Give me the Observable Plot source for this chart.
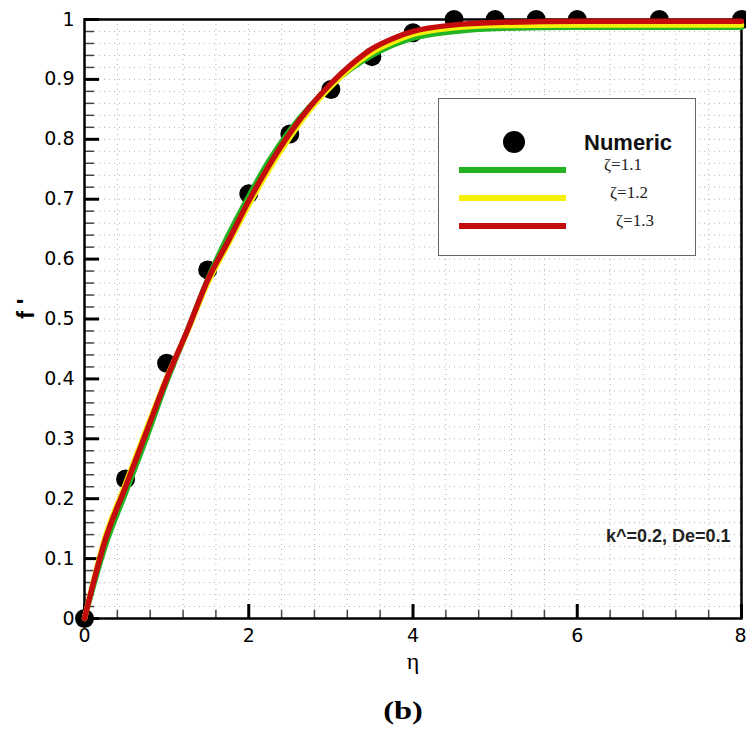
<!DOCTYPE html>
<html>
<head>
<meta charset="utf-8">
<script src="https://cdn.jsdelivr.net/npm/d3@7"></script>
<script src="https://cdn.jsdelivr.net/npm/@observablehq/plot@0.6"></script>
<style>
  body { margin: 0; background: #fff; }
  #wrap { position: relative; width: 746px; height: 737px; background: #fff; overflow: hidden; }
  #caption { position: absolute; left: 403px; top: 696px; transform: translateX(-50%) scaleX(1.25);
             font-family: "Liberation Serif", serif; font-weight: bold; font-size: 26px; color: #000; }
</style>
</head>
<body>
<div id="wrap"></div>
<script>
// ---- data ----
const etaNumeric = [0, 0.5, 1, 1.5, 2, 2.5, 3, 3.5, 4, 4.5, 5, 5.5, 6, 7, 8];
const fNumeric   = [0, 0.233, 0.426, 0.582, 0.709, 0.809, 0.883, 0.938, 0.978, 1.0, 1.0, 1.0, 1.0, 1.0, 1.0];

const etaLine = [0, 0.25, 0.5, 0.75, 1, 1.25, 1.5, 1.75, 2, 2.25, 2.5, 2.75, 3, 3.25, 3.5, 3.75, 4, 4.5, 5, 6, 7, 8];
const fZeta11 = [0, 0.12, 0.21, 0.30, 0.395, 0.48, 0.566, 0.64, 0.705, 0.765, 0.815, 0.856, 0.89, 0.918, 0.94, 0.957, 0.969, 0.98, 0.985, 0.987, 0.987, 0.987];
const fZeta12 = [0, 0.135, 0.225, 0.315, 0.402, 0.478, 0.56, 0.625, 0.69, 0.75, 0.803, 0.85, 0.888, 0.92, 0.945, 0.962, 0.975, 0.986, 0.99, 0.991, 0.991, 0.991];
const fZeta13 = [0, 0.13, 0.22, 0.31, 0.40, 0.48, 0.565, 0.63, 0.697, 0.757, 0.81, 0.855, 0.893, 0.925, 0.951, 0.968, 0.98, 0.991, 0.995, 0.997, 0.997, 0.997];

const seriesNames  = ["ζ=1.1", "ζ=1.2", "ζ=1.3"];
const seriesColors = ["#22b422", "#f5ef0a", "#c40c0c"];
const numericLabel = "Numeric";

const yMajorTicks = [0, 0.1, 0.2, 0.3, 0.4, 0.5, 0.6, 0.7, 0.8, 0.9, 1];
const yTickLabels = ["0", "0.1", "0.2", "0.3", "0.4", "0.5", "0.6", "0.7", "0.8", "0.9", "1"];
const xMajorTicks = [0, 2, 4, 6, 8];
const xTickLabels = ["0", "2", "4", "6", "8"];
const xLabel = "η";
const yLabel = "f '";
const annotation = "k^=0.2, De=0.1";
const captionText = "(b)";

// ---- derived tables ----
const numericRows = etaNumeric.map((e, i) => ({eta: e, f: fNumeric[i]}));
const seriesValues = [fZeta11, fZeta12, fZeta13];
const lineRows = [];
seriesValues.forEach((vals, s) => vals.forEach((v, i) => lineRows.push({eta: etaLine[i], f: v, series: seriesNames[s]})));

const xGrid = d3.range(1, 20).map(k => k * 0.4);
const yGrid = d3.range(1, 50).map(k => k * 0.02);
const xMinor = xGrid.filter(v => Math.abs(v / 2 - Math.round(v / 2)) > 1e-6);
const yMinor = yGrid.filter(v => Math.abs(v * 10 - Math.round(v * 10)) > 1e-6);
const xTickInner = xMajorTicks.slice(0, -1);
const xTickLast = xMajorTicks.slice(-1);

const W = 746, H = 690, mL = 84, mR = 5, mT = 19, mB = 72;
const plotW = W - mL - mR, plotH = H - mT - mB;
const fmtX = d => xTickLabels[xMajorTicks.indexOf(d)];

const chart = Plot.plot({
  width: W, height: H,
  marginLeft: mL, marginRight: mR, marginTop: mT, marginBottom: mB,
  style: {fontFamily: "DejaVu Sans", fontSize: "19px", background: "white", overflow: "visible", color: "black"},
  x: {domain: [0, 8]},
  y: {domain: [0, 1]},
  color: {domain: seriesNames, range: seriesColors},
  marks: [
    Plot.ruleX(xGrid, {x: d => d, stroke: "#b5b5b5", strokeWidth: 1, strokeDasharray: "1,4"}),
    Plot.ruleY(yGrid, {y: d => d, stroke: "#b5b5b5", strokeWidth: 1, strokeDasharray: "1,4"}),
    Plot.tickY(yMinor, {y: d => d, insetRight: plotW - 10, stroke: "#444", strokeWidth: 1.5}),
    Plot.tickY(yMajorTicks, {y: d => d, insetRight: plotW - 15, stroke: "#000", strokeWidth: 3}),
    Plot.tickX(xMinor, {x: d => d, insetTop: plotH - 8, stroke: "#444", strokeWidth: 1.5}),
    Plot.tickX(xMajorTicks, {x: d => d, insetTop: plotH - 14, stroke: "#000", strokeWidth: 3}),
    Plot.frame({stroke: "#000", strokeWidth: 2.5}),
    Plot.axisY(yMajorTicks, {tickSize: 0, tickPadding: 10, label: null, fontSize: 19,
      tickFormat: d => yTickLabels[yMajorTicks.indexOf(d)]}),
    Plot.axisX(xTickInner, {tickSize: 0, tickPadding: 10, label: null, fontSize: 19, tickFormat: fmtX}),
    Plot.text(xTickLast, {x: d => d, frameAnchor: "bottom", dy: 10, lineAnchor: "top", textAnchor: "end",
      dx: 5, fontSize: 19, text: fmtX}),
    Plot.dot(numericRows, {x: "eta", y: "f", r: 9.5, fill: "#000", stroke: "none"}),
    Plot.line(lineRows, {x: "eta", y: "f", z: "series", stroke: "series", strokeWidth: 5.5, curve: "monotone-x"}),
    Plot.text([annotation], {frameAnchor: "bottom-right", dx: -11, dy: -77, textAnchor: "end",
      fontWeight: "bold", fontSize: 18, fontFamily: "Liberation Sans", fill: "#222"}),
    Plot.text([yLabel], {frameAnchor: "left", dx: -58, rotate: -90, fontWeight: "bold", fontSize: 24,
      fontFamily: "Liberation Sans"}),
    Plot.text([xLabel], {frameAnchor: "bottom", dy: 50, fontSize: 24, fontFamily: "Liberation Serif"})
  ]
});

const wrap = document.getElementById("wrap");
wrap.appendChild(chart);

// ---- legend (inside plot area) ----
const legend = document.createElement("div");
legend.style.cssText = "position:absolute;left:438px;top:98px;width:256px;height:156px;border:1.5px solid #666;background:#fff;";
let svg = `<svg width="258" height="158" style="position:absolute;left:0;top:0;overflow:visible">`;
svg += `<circle cx="75" cy="43" r="11" fill="#000"/>`;
svg += `<text x="145" y="43" dominant-baseline="central" font-family="Liberation Sans" font-weight="bold" font-size="22" fill="#111">${numericLabel}</text>`;
seriesNames.forEach((n, i) => {
  const y = 71 + 28 * i;
  svg += `<line x1="20" x2="127" y1="${y}" y2="${y}" stroke="${seriesColors[i]}" stroke-width="6"/>`;
  svg += `<text x="${165 + 6 * i}" y="${y - 6}" dominant-baseline="central" font-family="Liberation Serif" font-size="17" fill="#222">${n}</text>`;
});
svg += `</svg>`;
legend.innerHTML = svg;
wrap.appendChild(legend);

// ---- caption ----
const cap = document.createElement("div");
cap.id = "caption";
cap.textContent = captionText;
wrap.appendChild(cap);
</script>
</body>
</html>
